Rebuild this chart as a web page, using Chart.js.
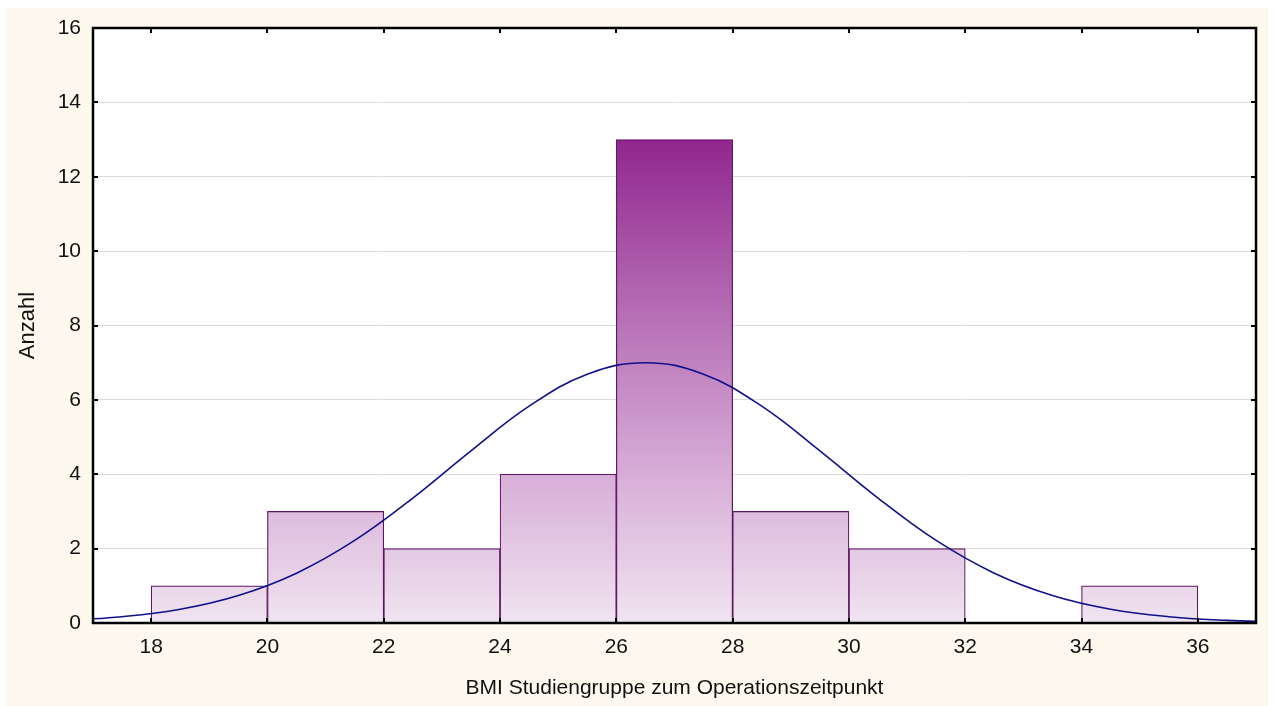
<!DOCTYPE html>
<html>
<head>
<meta charset="utf-8">
<script src="https://cdn.jsdelivr.net/npm/chart.js@4.4.0/dist/chart.umd.min.js"></script>
<style>
  html, body { margin: 0; padding: 0; background: #ffffff; }
  #frame { position: absolute; left: 6px; top: 8px; width: 1262px; height: 698px; background: #fef9ee; }
  canvas { display: block; }
</style>
</head>
<body>
<div id="frame"><canvas id="hist" width="1262" height="698"></canvas></div>
<script>
// ---- Daten ----
var binStart = [18, 20, 22, 24, 26, 28, 30, 32, 34];   // linke Klassengrenze, Breite 2
var binCount = [1, 3, 2, 4, 13, 3, 2, 0, 1];           // Anzahl je Klasse
// Normalverteilungskurve, an halben Werten abgelesen (wird am Plotrand abgeschnitten)
var curveX = [16.5, 17.5, 18.5, 19.5, 20.5, 21.5, 22.5, 23.5, 24.5, 25.5, 26.5, 27.5, 28.5, 29.5, 30.5, 31.5, 32.5, 33.5, 34.5, 35.5, 36.5, 37.5];
var curveY = [0.07, 0.17, 0.37, 0.74, 1.34, 2.22, 3.36, 4.63, 5.83, 6.69, 7.0, 6.69, 5.83, 4.63, 3.36, 2.22, 1.34, 0.74, 0.37, 0.17, 0.07, 0.03];
var xTicks = [18, 20, 22, 24, 26, 28, 30, 32, 34, 36];
var yTicks = [0, 2, 4, 6, 8, 10, 12, 14, 16];

var FONT = "'Liberation Sans', Arial, sans-serif";

// Balken-Verlauf: hell unten, dunkelviolett oben (an der y-Skala ausgerichtet)
function barFill(context) {
  var chart = context.chart;
  var area = chart.chartArea;
  if (!area) return '#d8b0d8';
  var ys = chart.scales.y;
  var g = chart.ctx.createLinearGradient(0, ys.getPixelForValue(0), 0, ys.getPixelForValue(13));
  g.addColorStop(0, '#f0e4f0');
  g.addColorStop(0.3, '#d8afd8');
  g.addColorStop(0.65, '#b56cb4');
  g.addColorStop(1, '#91268f');
  return g;
}

// weisser Plotbereich
var plotBg = {
  id: 'plotBg',
  beforeDraw: function (chart) {
    var a = chart.chartArea, c = chart.ctx;
    c.save();
    c.fillStyle = '#ffffff';
    c.fillRect(a.left, a.top, a.right - a.left, a.bottom - a.top);
    c.restore();
  }
};

// Rahmen + nach innen zeigende Teilstriche auf allen vier Seiten
var frameTicks = {
  id: 'frameTicks',
  afterDraw: function (chart) {
    var ctx = chart.ctx, a = chart.chartArea;
    var xs = chart.scales.x, ys = chart.scales.y;
    var len = 5;
    ctx.save();
    ctx.strokeStyle = '#000';
    ctx.lineWidth = 2;
    ctx.beginPath();
    xTicks.forEach(function (v) {
      var px = Math.round(xs.getPixelForValue(v));
      ctx.moveTo(px, a.bottom); ctx.lineTo(px, a.bottom - len);
      ctx.moveTo(px, a.top); ctx.lineTo(px, a.top + len);
    });
    yTicks.forEach(function (v) {
      var py = Math.round(ys.getPixelForValue(v));
      ctx.moveTo(a.left, py); ctx.lineTo(a.left + len, py);
      ctx.moveTo(a.right, py); ctx.lineTo(a.right - len, py);
    });
    ctx.stroke();
    ctx.lineWidth = 2.5;
    ctx.strokeRect(a.left, a.top, a.right - a.left, a.bottom - a.top);
    ctx.restore();
  }
};

var ctx = document.getElementById('hist').getContext('2d');
var chart = new Chart(ctx, {
  data: {
    datasets: [
      {
        type: 'line',
        data: curveX.map(function (x, i) { return { x: x, y: curveY[i] }; }),
        borderColor: '#10108a',
        borderWidth: 1.6,
        pointRadius: 0,
        tension: 0.4,
        fill: false,
        order: 0
      },
      {
        type: 'bar',
        data: binStart.map(function (s, i) { return { x: s + 1, y: binCount[i] }; }),
        backgroundColor: barFill,
        borderColor: '#5e1662',
        borderWidth: 1.2,
        barPercentage: 1,
        categoryPercentage: 1,
        order: 1
      }
    ]
  },
  options: {
    responsive: false,
    devicePixelRatio: 1,
    animation: false,
    layout: { padding: { left: 0, top: 20, right: 12, bottom: 0 } },
    plugins: { legend: { display: false }, tooltip: { enabled: false } },
    scales: {
      x: {
        type: 'linear',
        min: 17,
        max: 37,
        offset: false,
        grid: { display: false, offset: false, drawTicks: false },
        border: { display: false },
        afterBuildTicks: function (s) { s.ticks = xTicks.map(function (v) { return { value: v }; }); },
        afterFit: function (s) { s.height = 83; s.paddingLeft = 0; s.paddingRight = 0; },
        ticks: { color: '#111', font: { family: FONT, size: 21 }, padding: 12, maxRotation: 0 },
        title: {
          display: true,
          text: 'BMI Studiengruppe zum Operationszeitpunkt',
          color: '#111',
          font: { family: FONT, size: 21 },
          padding: { top: 0, bottom: 5 }
        }
      },
      y: {
        type: 'linear',
        min: 0,
        max: 16,
        grid: { color: '#dcdcdc', lineWidth: 1, drawTicks: false },
        border: { display: false },
        afterBuildTicks: function (s) { s.ticks = yTicks.map(function (v) { return { value: v }; }); },
        afterFit: function (s) { s.width = 87; s.paddingTop = 0; s.paddingBottom = 0; },
        ticks: { color: '#111', font: { family: FONT, size: 21 }, padding: 12 },
        title: {
          display: true,
          text: 'Anzahl',
          color: '#111',
          font: { family: FONT, size: 22 },
          padding: { top: 9, bottom: 0 }
        }
      }
    }
  },
  plugins: [plotBg, frameTicks]
});
</script>
</body>
</html>
